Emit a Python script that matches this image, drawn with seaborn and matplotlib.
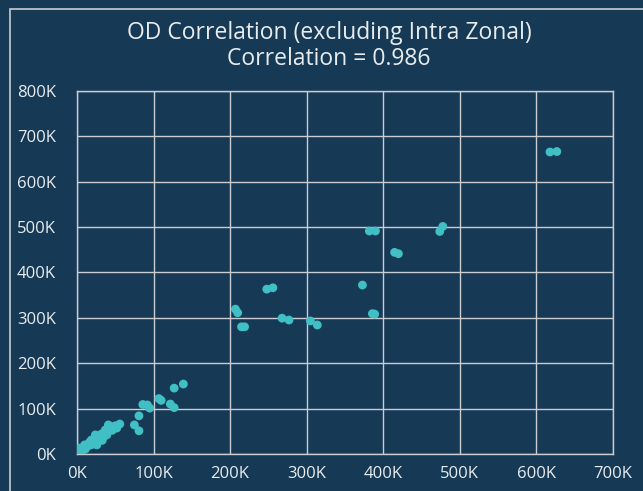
import pandas as pd
import seaborn as sns
import matplotlib.pyplot as plt
from matplotlib.patches import Rectangle
from matplotlib.ticker import FuncFormatter

# Valores (miles de viajes)
observado = [618, 627, 382, 390, 474, 478, 415, 420, 373, 386, 389,
             248, 256, 207, 210, 215, 219, 268, 277, 305, 314,
             139, 127, 107, 110, 122, 127, 86, 92, 95, 81, 75, 81,
             56, 52, 41, 37, 39, 24, 30, 26, 17, 10, 4, 0,
             2, 5, 7, 8, 12, 14, 15, 18, 20, 22, 27, 28, 33, 35, 32,
             44, 46, 48, 50, 3, 6, 1, 9, 11, 13, 19, 21, 25, 36]
modelado = [665, 666, 491, 491, 490, 501, 444, 441, 372, 309, 308,
            363, 366, 319, 311, 280, 280, 299, 295, 293, 284,
            154, 145, 122, 118, 110, 102, 109, 108, 101, 84, 64, 51,
            66, 57, 64, 53, 42, 42, 35, 20, 27, 20, 13, 5,
            3, 8, 10, 14, 15, 18, 22, 20, 25, 30, 28, 32, 30, 38, 44,
            60, 52, 58, 62, 6, 5, 1, 12, 11, 20, 31, 22, 36, 46]

xticks = [0, 100, 200, 300, 400, 500, 600, 700]
yticks = [0, 100, 200, 300, 400, 500, 600, 700, 800]

titulo = "OD Correlation (excluding Intra Zonal)\nCorrelation = 0.986"

fondo = "#163a56"
punto = "#40bfc4"
linea = "#c9cdd1"
texto = "#e8ecef"

df = pd.DataFrame({"x": [v * 1000 for v in observado],
                   "y": [v * 1000 for v in modelado]})

sns.set_theme(style="whitegrid")
plt.rcParams["font.family"] = ["Open Sans", "DejaVu Sans"]

fig = plt.figure(figsize=(6.43, 4.91), dpi=100, facecolor=fondo)
ax = fig.add_axes([0.1197, 0.0754, 0.8332, 0.7399])
ax.set_facecolor(fondo)

sns.scatterplot(data=df, x="x", y="y", ax=ax, color=punto, s=40,
                edgecolor="none", linewidth=0, zorder=3)

ax.set_xlim(0, 700000)
ax.set_ylim(0, 800000)
ax.set_xticks([v * 1000 for v in xticks])
ax.set_yticks([v * 1000 for v in yticks])
fmt = FuncFormatter(lambda v, p: f"{v / 1000:.0f}K")
ax.xaxis.set_major_formatter(fmt)
ax.yaxis.set_major_formatter(fmt)
ax.set_xlabel("")
ax.set_ylabel("")
ax.grid(True, color=linea, linewidth=1)
for s in ax.spines.values():
    s.set_color(linea)
    s.set_linewidth(1)
ax.tick_params(axis="both", colors=texto, labelsize=12, length=0)
ax.tick_params(axis="y", pad=15)
ax.tick_params(axis="x", pad=9)

fig.text(0.512, 0.958, titulo, ha="center", va="top", color=texto,
         fontsize=16.5, linespacing=1.12)

# marco claro arriba y a la izquierda
fig.patches.append(Rectangle((10 / 643, -0.1), 1.2, 0.1 + 1 - 9 / 491,
                             transform=fig.transFigure, fill=False,
                             edgecolor=linea, linewidth=1.2))

plt.savefig("out.png", dpi=100, facecolor=fondo)
plt.clf()
plt.close()
